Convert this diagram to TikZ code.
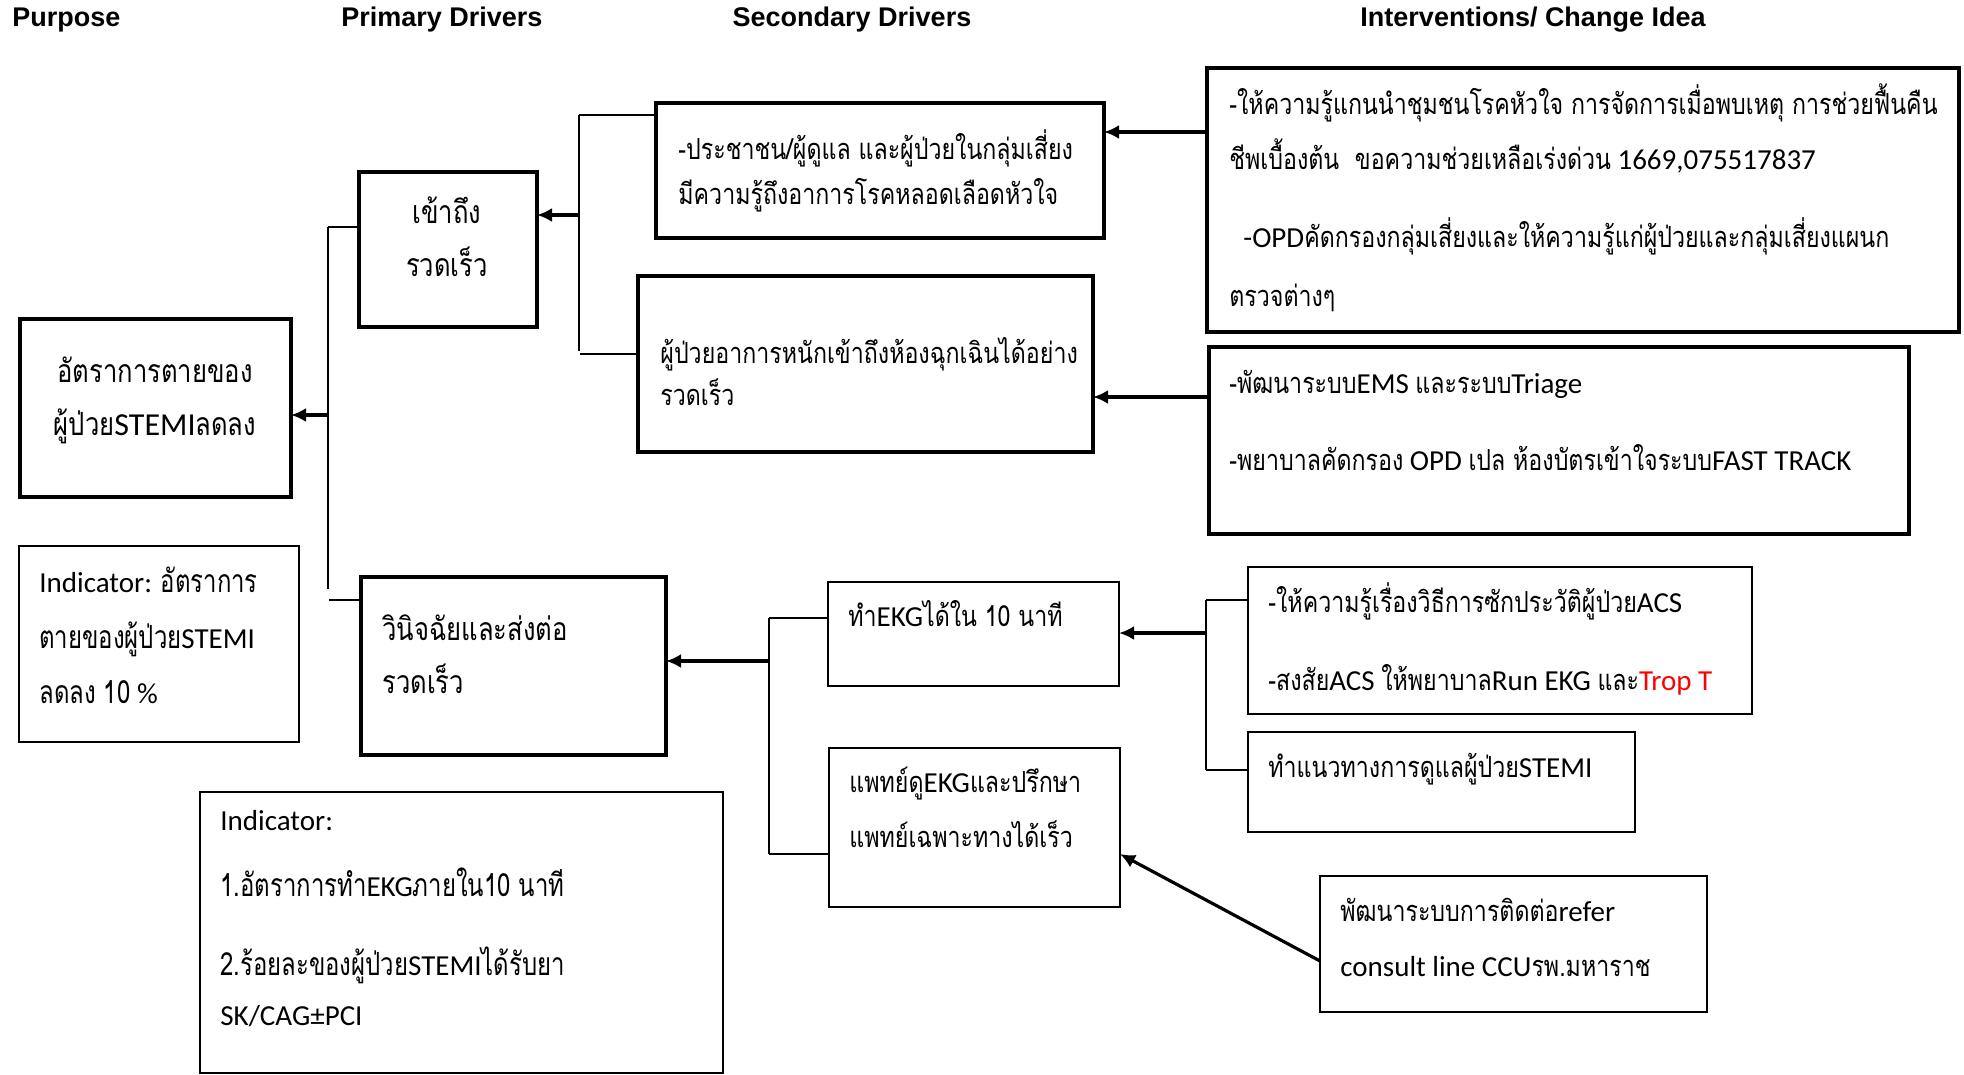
\documentclass[tikz,border=0pt]{standalone}
\usepackage{fontspec}
\setmainfont{Carlito}
\newfontfamily\thaifont[Script=Thai, FakeStretch=0.8]{Loma}
\newfontfamily\thaiind[Script=Thai, FakeStretch=0.75, Scale=1.1]{Loma}
\newfontfamily\hdfont{Liberation Sans}
\usetikzlibrary{arrows.meta}
\newcommand\tx[1]{{\thaifont #1}}
\newcommand\txi[1]{{\thaiind #1}}
% box node from corner coordinates (px units)
\newcommand\bx[6]{\node[#6, minimum width={(#4-#2)*0.5pt}, minimum height={(#5-#3)*0.5pt}, inner sep=0pt, outer sep=0pt] (#1) at ({(#2+#4)/2},{(#3+#5)/2}) {};}
\begin{document}
\begin{tikzpicture}[x=0.5pt,y=-0.5pt,
  thickbox/.style={draw, line width=1.8pt},
  thinbox/.style={draw, line width=0.8pt},
  conn/.style={line width=0.7pt},
  arr/.style={line width=1.6pt, -{Latex[length=7.5pt,width=7pt]}},
  hd/.style={font=\hdfont\bfseries\fontsize{13.5}{16}\selectfont, inner sep=0pt},
  t/.style={anchor=mid west, inner sep=0pt, font=\fontsize{14.5}{16}\selectfont},
  tb/.style={anchor=mid west, inner sep=0pt, font=\fontsize{16}{20}\selectfont},
  tc/.style={anchor=mid, inner sep=0pt, font=\fontsize{16}{20}\selectfont}]
\useasboundingbox (0,0) rectangle (1964,1075);
% headers
\node[hd, anchor=base west] (h1) at (12,27) {Purpose};
\node[hd, anchor=base] (h2) at (442,27) {Primary Drivers};
\node[hd, anchor=base] (h3) at (852,27) {Secondary Drivers};
\node[hd, anchor=base] (h4) at (1533,27) {Interventions/ Change Idea};
% boxes
\bx{pur}{20}{319}{291}{497}{thickbox}
\bx{ind1}{19}{546}{299}{742}{thinbox}
\bx{pd1}{359}{172}{537}{327}{thickbox}
\bx{pd2}{361}{577}{666}{755}{thickbox}
\bx{ind2}{200}{792}{723}{1073}{thinbox}
\bx{sd1}{656}{103}{1104}{238}{thickbox}
\bx{sd2}{638}{276}{1093}{452}{thickbox}
\bx{ekg}{828}{582}{1119}{686}{thinbox}
\bx{doc}{829}{748}{1120}{907}{thinbox}
\bx{int1}{1207}{68}{1959}{332}{thickbox}
\bx{int2}{1209}{347}{1909}{534}{thickbox}
\bx{int3}{1248}{567}{1752}{714}{thinbox}
\bx{int4}{1248}{732}{1635}{832}{thinbox}
\bx{int5}{1320}{876}{1707}{1012}{thinbox}
% texts
\node[tc] (purA) at (155,378) {\tx{อัตราการตายของ}};
\node[tc] (purB) at (155,431) {\tx{ผู้ป่วย}STEMI\tx{ลดลง}};
\node[tc] (pd1A) at (447,219) {\tx{เข้าถึง}};
\node[tc] (pd1B) at (447,272) {\tx{รวดเร็ว}};
\node[tb] (pd2A) at (382,636) {\tx{วินิจฉัยและส่งต่อ}};
\node[tb] (pd2B) at (382,689) {\tx{รวดเร็ว}};
\node[t] (ind1A) at (39,588) {Indicator: \txi{อัตราการ}};
\node[t] (ind1B) at (39,644) {\txi{ตายของผู้ป่วย}STEMI};
\node[t] (ind1C) at (39,699) {\txi{ลดลง 10} \%};
\node[t] (ind2A) at (220,826) {Indicator:};
\node[t] (ind2B) at (220,892) {\txi{1.อัตราการทำ}EKG\txi{ภายใน10 นาที}};
\node[t] (ind2C) at (220,971) {\txi{2.ร้อยละของผู้ป่วย}STEMI\txi{ได้รับยา}};
\node[t] (ind2D) at (220,1021) {SK/CAG±PCI};
\node[t] (sd1A) at (678,155) {\tx{-ประชาชน/ผู้ดูแล และผู้ป่วยในกลุ่มเสี่ยง}};
\node[t] (sd1B) at (678,200) {\tx{มีความรู้ถึงอาการโรคหลอดเลือดหัวใจ}};
\node[t] (sd2A) at (660,359) {\tx{ผู้ป่วยอาการหนักเข้าถึงห้องฉุกเฉินได้อย่าง}};
\node[t] (sd2B) at (660,401) {\tx{รวดเร็ว}};
\node[t] (ekgA) at (848,622) {\tx{ทำ}EKG\tx{ได้ใน 10 นาที}};
\node[t] (docA) at (849,788) {\tx{แพทย์ดู}EKG\tx{และปรึกษา}};
\node[t] (docB) at (849,843) {\tx{แพทย์เฉพาะทางได้เร็ว}};
\node[t] (int1A) at (1229,110) {\tx{-ให้ความรู้แกนนำชุมชนโรคหัวใจ การจัดการเมื่อพบเหตุ การช่วยฟื้นคืน}};
\node[t] (int1B) at (1229,165) {\tx{ชีพเบื้องต้น\ \ ขอความช่วยเหลือเร่งด่วน} 1669,075517837};
\node[t] (int1C) at (1243,243) {-OPD\tx{คัดกรองกลุ่มเสี่ยงและให้ความรู้แก่ผู้ป่วยและกลุ่มเสี่ยงแผนก}};
\node[t] (int1D) at (1229,302) {\tx{ตรวจต่างๆ}};
\node[t] (int2A) at (1229,389) {\tx{-พัฒนาระบบ}EMS \tx{และระบบ}Triage};
\node[t] (int2B) at (1229,466) {\tx{-พยาบาลคัดกรอง} OPD \tx{เปล ห้องบัตรเข้าใจระบบ}FAST TRACK};
\node[t] (int3A) at (1268,608) {\tx{-ให้ความรู้เรื่องวิธีการซักประวัติผู้ป่วย}ACS};
\node[t] (int3B) at (1268,686) {\tx{-สงสัย}ACS \tx{ให้พยาบาล}Run EKG \tx{และ}\textcolor{red}{Trop T}};
\node[t] (int4A) at (1268,773) {\tx{ทำแนวทางการดูแลผู้ป่วย}STEMI};
\node[t] (int5A) at (1340,917) {\tx{พัฒนาระบบการติดต่อ}refer};
\node[t] (int5B) at (1340,972) {consult line CCU\tx{รพ.มหาราช}};
% purpose bracket
\coordinate (pT) at (328,227);
\coordinate (pB) at (328,589);
\coordinate (pB2) at (329,600);
\coordinate (pM) at (328,415);
\draw[conn] (pT) -- (pB);
\draw[conn] (pT) -- (pT -| pd1.west);
\draw[conn] (pB2) -- (pB2 -| pd2.west);
\draw[arr] (pM) -- (pM -| pur.east);
% secondary bracket (upper)
\coordinate (sT) at (579,115);
\coordinate (sB) at (579,351);
\coordinate (sB2) at (580,354);
\coordinate (sM) at (579,215);
\draw[conn] (sT) -- (sB);
\draw[conn] (sT) -- (sT -| sd1.west);
\draw[conn] (sB2) -- (sB2 -| sd2.west);
\draw[arr] (sM) -- (sM -| pd1.east);
% interventions to secondary (upper)
\coordinate (i1) at (1207,132);
\coordinate (i2) at (1209,397);
\draw[arr] (i1 -| int1.west) -- (i1 -| sd1.east);
\draw[arr] (i2 -| int2.west) -- (i2 -| sd2.east);
% secondary bracket (lower)
\coordinate (lT) at (769,618);
\coordinate (lB) at (769,854);
\coordinate (lM) at (769,661);
\draw[conn] (lT) -- (lB);
\draw[conn] (lT) -- (lT -| ekg.west);
\draw[conn] (lB) -- (lB -| doc.west);
\draw[arr] (lM) -- (lM -| pd2.east);
% intervention bracket (lower)
\coordinate (kT) at (1206,600);
\coordinate (kB) at (1206,770);
\coordinate (kM) at (1206,633);
\draw[conn] (kT) -- (kB);
\draw[conn] (kT) -- (kT -| int3.west);
\draw[conn] (kB) -- (kB -| int4.west);
\draw[arr] (kM) -- (kM -| ekg.east);
% diagonal
\coordinate (dS) at (1320,961);
\coordinate (dE) at (1120,854);
\draw[arr] (dS -| int5.west) -- (dE -| doc.east);
\end{tikzpicture}
\end{document}
